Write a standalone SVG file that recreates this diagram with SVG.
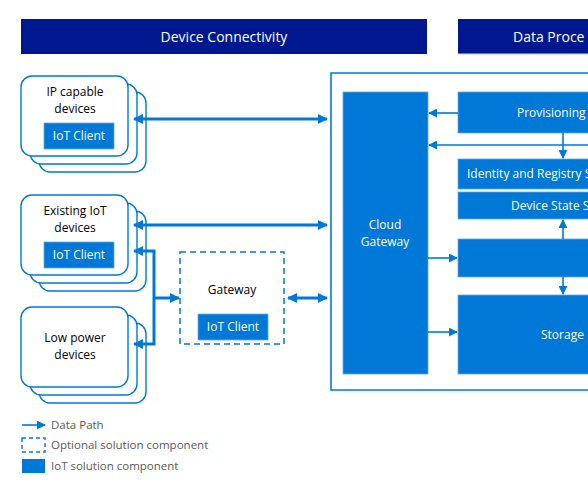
<svg xmlns="http://www.w3.org/2000/svg" width="588" height="490" viewBox="0 0 588 490">
<defs>
<style>
text{font-family:"Open Sans","Noto Sans","Liberation Sans",sans-serif;}
.hdr{fill:#00188f;}
.htx{fill:#ffffff;font-size:14px;text-anchor:middle;}
.dev{fill:#ffffff;stroke:#0078d7;stroke-width:1.4;}
.blue{fill:#0078d7;stroke:#6aa8e0;stroke-width:0.8;}
.btx{fill:#ffffff;font-size:12px;text-anchor:middle;}
.ktx{fill:#000000;font-size:12px;text-anchor:middle;}
.thick{stroke:#0078d7;stroke-width:3;fill:none;}
.thin{stroke:#0078d7;stroke-width:1.6;fill:none;}
.leg{fill:#595959;font-size:11.5px;}
</style>
<marker id="ah" viewBox="0 0 10 10" refX="9" refY="5" markerWidth="12" markerHeight="10" markerUnits="userSpaceOnUse" orient="auto-start-reverse">
<path d="M0,0 L10,5 L0,10 z" fill="#0078d7"/>
</marker>
<marker id="as" viewBox="0 0 10 10" refX="9" refY="5" markerWidth="9" markerHeight="9" markerUnits="userSpaceOnUse" orient="auto-start-reverse">
<path d="M0,0 L10,5 L0,10 z" fill="#0078d7"/>
</marker>
</defs>
<rect width="588" height="490" fill="#ffffff"/>

<g id="hdr-device">
<rect class="hdr" x="21" y="19" width="406" height="35"/>
<text class="htx" x="224" y="42">Device Connectivity</text>
</g>
<g id="hdr-data">
<rect class="hdr" x="458" y="19" width="140" height="35"/>
<rect x="458" y="53" width="140" height="1.2" fill="#5b7fd6"/>
<text x="513" y="42" fill="#ffffff" font-size="14">Data Proce</text>
</g>

<g id="ip-devices">
<rect class="dev" x="39" y="92" width="107" height="80" rx="11"/>
<rect class="dev" x="30" y="84" width="107" height="80" rx="11"/>
<rect class="dev" x="21" y="76" width="107" height="80" rx="11"/>
<text class="ktx" x="75" y="96">IP capable</text>
<text class="ktx" x="75" y="113">devices</text>
<rect class="blue" x="44" y="123" width="70" height="26"/>
<text class="btx" x="79" y="140">IoT Client</text>
</g>

<g id="existing-devices">
<rect class="dev" x="39" y="211" width="107" height="80" rx="11"/>
<rect class="dev" x="30" y="203" width="107" height="80" rx="11"/>
<rect class="dev" x="21" y="195" width="107" height="80" rx="11"/>
<text class="ktx" x="75" y="215">Existing IoT</text>
<text class="ktx" x="75" y="232">devices</text>
<rect class="blue" x="44" y="242" width="70" height="26"/>
<text class="btx" x="79" y="259">IoT Client</text>
</g>

<g id="lowpower-devices">
<rect class="dev" x="39" y="323" width="107" height="80" rx="11"/>
<rect class="dev" x="30" y="315" width="107" height="80" rx="11"/>
<rect class="dev" x="21" y="307" width="107" height="80" rx="11"/>
<text class="ktx" x="75" y="342">Low power</text>
<text class="ktx" x="75" y="359">devices</text>
</g>

<g id="gateway">
<rect x="180" y="252" width="104" height="92" fill="#ffffff" stroke="#0078d7" stroke-width="1.5" stroke-dasharray="6,4"/>
<text class="ktx" x="232" y="294">Gateway</text>
<rect class="blue" x="198" y="314" width="70" height="26"/>
<text class="btx" x="233" y="331">IoT Client</text>
</g>

<g id="cloud-frame">
<path d="M598,73 H331 V390 H598" fill="none" stroke="#0078d7" stroke-width="1.6"/>
</g>

<g id="cloud-gateway">
<rect class="blue" x="343" y="92" width="85" height="282"/>
<text class="btx" x="385" y="229">Cloud</text>
<text class="btx" x="385" y="246">Gateway</text>
</g>

<g id="provisioning">
<rect class="blue" x="458" y="92" width="140" height="41"/>
<text x="517" y="117" fill="#ffffff" font-size="12">Provisioning</text>
</g>

<g id="identity-registry">
<rect class="blue" x="458" y="159" width="140" height="30"/>
<text x="467" y="178" fill="#ffffff" font-size="12">Identity and Registry S</text>
</g>

<g id="device-state">
<rect class="blue" x="458" y="192" width="140" height="27"/>
<text x="511" y="210" fill="#ffffff" font-size="12">Device State S</text>
</g>

<g id="processing">
<rect class="blue" x="458" y="239" width="140" height="38"/>
</g>

<g id="storage">
<rect class="blue" x="458" y="295" width="140" height="79"/>
<text x="541" y="339" fill="#ffffff" font-size="12">Storage</text>
</g>

<g id="connectors">
<line class="thick" x1="134" y1="119" x2="327" y2="119" marker-start="url(#ah)" marker-end="url(#ah)"/>
<line class="thick" x1="134" y1="225" x2="327" y2="225" marker-start="url(#ah)" marker-end="url(#ah)"/>
<path class="thick" d="M134,251 H154 V344 H134" marker-start="url(#ah)" marker-end="url(#ah)"/>
<line class="thick" x1="154" y1="298" x2="179" y2="298" marker-end="url(#ah)"/>
<line class="thick" x1="288" y1="298" x2="327" y2="298" marker-start="url(#ah)" marker-end="url(#ah)"/>

<line class="thin" x1="458" y1="113" x2="429" y2="113" marker-end="url(#as)"/>
<line class="thin" x1="598" y1="145" x2="429" y2="145" marker-end="url(#as)"/>
<line class="thin" x1="563" y1="133" x2="563" y2="158" marker-end="url(#as)"/>
<line class="thin" x1="563" y1="239" x2="563" y2="220" marker-end="url(#as)"/>
<line class="thin" x1="563" y1="277" x2="563" y2="294" marker-end="url(#as)"/>
<line class="thin" x1="428" y1="258" x2="457" y2="258" marker-end="url(#as)"/>
<line class="thin" x1="428" y1="332" x2="457" y2="332" marker-end="url(#as)"/>
</g>

<g id="legend">
<line x1="22" y1="425" x2="45" y2="425" stroke="#0078d7" stroke-width="1.6" marker-end="url(#as)"/>
<text class="leg" x="51" y="429">Data Path</text>
<rect x="22" y="438" width="23" height="14" fill="none" stroke="#0078d7" stroke-width="1.4" stroke-dasharray="4,3"/>
<text class="leg" x="51" y="449">Optional solution component</text>
<rect x="22" y="459" width="23" height="14" fill="#0078d7"/>
<text class="leg" x="51" y="470">IoT solution component</text>
</g>
</svg>
